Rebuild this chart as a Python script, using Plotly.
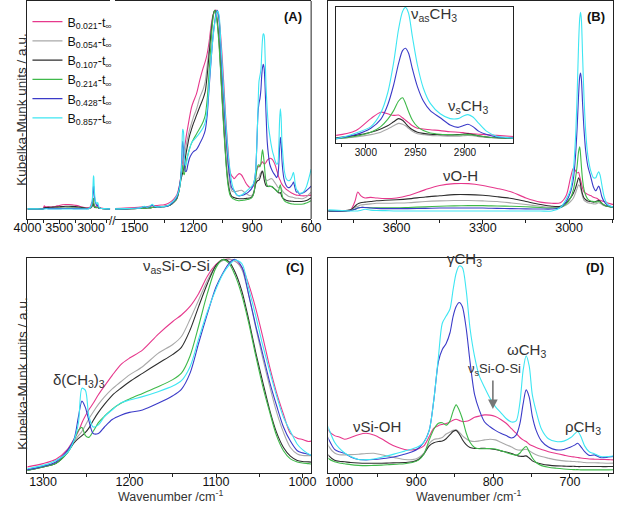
import plotly.graph_objects as go

# ---------------- data ----------------
WN_HIGH = [4000, 3900, 3840, 3790, 3760, 3745, 3735, 3725, 3710, 3690,
           3670, 3640, 3600, 3560, 3500, 3450, 3400, 3350, 3300, 3250,
           3200, 3150, 3100, 3060, 3030, 3010, 2995, 2985, 2978, 2972,
           2967, 2963, 2960, 2957, 2953, 2948, 2942, 2935, 2925, 2915,
           2907, 2902, 2897, 2892, 2886, 2878, 2868, 2855, 2840, 2800,
           2700]

WN_LOW = [1600, 1550, 1500, 1470, 1450, 1435, 1420, 1410, 1400, 1385,
          1365, 1350, 1330, 1318, 1300, 1285, 1272, 1264, 1259, 1255,
          1251, 1247, 1242, 1236, 1229, 1220, 1210, 1200, 1185, 1167,
          1150, 1140, 1130, 1120, 1110, 1100, 1092, 1085, 1078, 1070,
          1062, 1054, 1046, 1038, 1030, 1022, 1014, 1006, 1000, 993,
          985, 975, 965, 955, 945, 935, 925, 915, 905, 897,
          890, 883, 877, 871, 866, 861, 856, 852, 848, 844,
          840, 835, 830, 824, 818, 811, 804, 797, 790, 783,
          776, 770, 765, 761, 757, 753, 749, 744, 737, 728,
          718, 708, 699, 694, 690, 686, 681, 675, 668, 660,
          650, 640, 625, 610, 600]

SERIES_NAMES = ["B<sub>0.021</sub>-t<sub>∞</sub>", "B<sub>0.054</sub>-t<sub>∞</sub>",
                "B<sub>0.107</sub>-t<sub>∞</sub>", "B<sub>0.214</sub>-t<sub>∞</sub>",
                "B<sub>0.428</sub>-t<sub>∞</sub>", "B<sub>0.857</sub>-t<sub>∞</sub>"]

HIGH_B0021 = [0.000, 0.000, 0.000, 0.000, 0.001, 0.008, 0.016, 0.013, 0.011, 0.0115,
              0.011, 0.0105, 0.011, 0.013, 0.018, 0.0215, 0.023, 0.023, 0.0215, 0.019,
              0.016, 0.011, 0.0075, 0.0065, 0.007, 0.013, 0.028, 0.036, 0.034, 0.032,
              0.0325, 0.029, 0.026, 0.023, 0.019, 0.016, 0.015, 0.014, 0.013, 0.0115,
              0.011, 0.0105, 0.0095, 0.009, 0.0085, 0.008, 0.007, 0.006, 0.005, 0.003,
              0.001]
HIGH_B0054 = [0, 0, 0, 0, 0.001, 0.003, 0.004, 0.005, 0.0055, 0.006,
              0.0065, 0.0065, 0.0067, 0.007, 0.008, 0.0085, 0.0088, 0.0088, 0.0085, 0.008,
              0.0068, 0.0055, 0.004, 0.003, 0.003, 0.005, 0.008, 0.011, 0.015, 0.019,
              0.022, 0.021, 0.019, 0.016, 0.012, 0.009, 0.008, 0.007, 0.0065, 0.006,
              0.006, 0.0065, 0.007, 0.0065, 0.0055, 0.0045, 0.004, 0.0035, 0.003, 0.002,
              0.001]
HIGH_B0107 = [0, 0, 0, 0, 0.001, 0.004, 0.006, 0.007, 0.0075, 0.008,
              0.0086, 0.009, 0.0095, 0.0102, 0.0118, 0.0128, 0.0138, 0.0138, 0.0132, 0.012,
              0.0105, 0.008, 0.0055, 0.004, 0.004, 0.007, 0.011, 0.015, 0.019, 0.024,
              0.028, 0.026, 0.022, 0.018, 0.014, 0.011, 0.0095, 0.0085, 0.008, 0.0075,
              0.008, 0.0085, 0.009, 0.008, 0.0065, 0.005, 0.004, 0.0035, 0.003, 0.002,
              0.001]
HIGH_B0214 = [0, 0, 0, 0, 0.0005, 0.0015, 0.0025, 0.003, 0.003, 0.0028,
              0.0027, 0.0027, 0.0027, 0.003, 0.0035, 0.004, 0.0043, 0.0045, 0.0045, 0.0042,
              0.004, 0.0036, 0.003, 0.0025, 0.003, 0.006, 0.011, 0.018, 0.027, 0.038,
              0.050, 0.054, 0.047, 0.037, 0.026, 0.018, 0.013, 0.010, 0.0085, 0.008,
              0.0075, 0.0078, 0.008, 0.0075, 0.0065, 0.005, 0.004, 0.0035, 0.003, 0.002,
              0.001]
HIGH_B0428 = [0, 0, 0, 0, 0.0005, 0.0015, 0.0025, 0.003, 0.003, 0.0025,
              0.0022, 0.002, 0.002, 0.002, 0.0022, 0.0025, 0.0025, 0.0025, 0.0025, 0.0022,
              0.002, 0.0018, 0.0017, 0.0017, 0.003, 0.008, 0.016, 0.027, 0.045, 0.070,
              0.097, 0.113, 0.116, 0.110, 0.090, 0.068, 0.050, 0.038, 0.029, 0.020,
              0.017, 0.019, 0.021, 0.018, 0.012, 0.008, 0.005, 0.004, 0.003, 0.002,
              0.001]
HIGH_B0857 = [0.001, 0.001, 0.001, 0.0005, 0, 0, 0, 0.0005, 0.0015, 0.0008,
              0.0005, 0.0003, 0, 0, 0, 0, 0, 0, 0, 0,
              0, 0, 0, 0, 0.003, 0.010, 0.018, 0.035, 0.060, 0.098,
              0.140, 0.162, 0.167, 0.160, 0.130, 0.095, 0.066, 0.047, 0.034, 0.028,
              0.028, 0.031, 0.033, 0.030, 0.022, 0.012, 0.006, 0.004, 0.003, 0.002,
              0.001]

LOW_B0021 = [0.003, 0.005, 0.008, 0.010, 0.012, 0.013, 0.015, 0.016, 0.017, 0.018,
             0.020, 0.022, 0.028, 0.035, 0.050, 0.070, 0.115, 0.165, 0.200, 0.240,
             0.272, 0.300, 0.330, 0.370, 0.410, 0.460, 0.510, 0.540, 0.577, 0.650,
             0.710, 0.740, 0.780, 0.840, 0.920, 0.975, 0.995, 1.000, 0.990, 0.960,
             0.880, 0.770, 0.640, 0.500, 0.380, 0.280, 0.190, 0.168, 0.162, 0.153,
             0.160, 0.172, 0.178, 0.171, 0.155, 0.135, 0.120, 0.110, 0.108, 0.113,
             0.125, 0.164, 0.199, 0.210, 0.215, 0.219, 0.225, 0.233, 0.237, 0.232,
             0.227, 0.228, 0.234, 0.245, 0.250, 0.255, 0.254, 0.248, 0.236, 0.220,
             0.197, 0.178, 0.160, 0.150, 0.143, 0.132, 0.125, 0.118, 0.110, 0.100,
             0.093, 0.086, 0.080, 0.078, 0.076, 0.074, 0.072, 0.070, 0.069, 0.068,
             0.067, 0.066, 0.067, 0.068, 0.070]
LOW_B0054 = [0.000, 0.001, 0.003, 0.005, 0.006, 0.008, 0.009, 0.010, 0.011, 0.012,
             0.013, 0.014, 0.017, 0.020, 0.035, 0.052, 0.100, 0.155, 0.180, 0.200,
             0.228, 0.258, 0.290, 0.325, 0.360, 0.397, 0.430, 0.462, 0.500, 0.562,
             0.603, 0.640, 0.720, 0.810, 0.900, 0.970, 0.993, 0.998, 0.990, 0.950,
             0.830, 0.680, 0.540, 0.410, 0.290, 0.195, 0.125, 0.095, 0.088, 0.087,
             0.088, 0.090, 0.093, 0.094, 0.088, 0.080, 0.074, 0.068, 0.067, 0.075,
             0.095, 0.135, 0.152, 0.155, 0.160, 0.175, 0.183, 0.190, 0.192, 0.183,
             0.168, 0.155, 0.146, 0.143, 0.146, 0.150, 0.153, 0.150, 0.140, 0.130,
             0.120, 0.110, 0.107, 0.108, 0.111, 0.105, 0.096, 0.088, 0.080, 0.073,
             0.066, 0.062, 0.060, 0.059, 0.058, 0.057, 0.055, 0.054, 0.054, 0.053,
             0.052, 0.053, 0.060, 0.075, 0.085]
LOW_B0107 = [0.000, 0.001, 0.002, 0.003, 0.004, 0.005, 0.006, 0.008, 0.009, 0.010,
             0.011, 0.012, 0.016, 0.020, 0.035, 0.052, 0.100, 0.147, 0.167, 0.180,
             0.195, 0.215, 0.250, 0.288, 0.325, 0.367, 0.400, 0.430, 0.469, 0.515,
             0.557, 0.590, 0.670, 0.780, 0.885, 0.970, 0.998, 0.988, 0.940, 0.850,
             0.715, 0.565, 0.430, 0.300, 0.195, 0.125, 0.085, 0.065, 0.060, 0.058,
             0.055, 0.053, 0.052, 0.052, 0.052, 0.053, 0.054, 0.055, 0.058, 0.068,
             0.090, 0.125, 0.138, 0.143, 0.145, 0.155, 0.172, 0.185, 0.190, 0.175,
             0.152, 0.130, 0.118, 0.114, 0.114, 0.115, 0.113, 0.110, 0.104, 0.099,
             0.093, 0.086, 0.081, 0.081, 0.083, 0.074, 0.062, 0.055, 0.049, 0.044,
             0.041, 0.040, 0.039, 0.039, 0.038, 0.038, 0.038, 0.038, 0.038, 0.038,
             0.038, 0.039, 0.043, 0.050, 0.055]
LOW_B0214 = [0.000, 0.000, 0.002, 0.003, 0.004, 0.005, 0.006, 0.008, 0.009, 0.010,
             0.011, 0.012, 0.015, 0.020, 0.035, 0.052, 0.100, 0.160, 0.205, 0.218,
             0.180, 0.172, 0.200, 0.240, 0.270, 0.303, 0.330, 0.350, 0.376, 0.407,
             0.440, 0.470, 0.550, 0.690, 0.840, 0.960, 0.997, 0.980, 0.925, 0.830,
             0.700, 0.550, 0.410, 0.290, 0.180, 0.110, 0.072, 0.058, 0.053, 0.050,
             0.046, 0.043, 0.042, 0.043, 0.044, 0.046, 0.048, 0.050, 0.055, 0.065,
             0.090, 0.150, 0.195, 0.220, 0.222, 0.212, 0.230, 0.270, 0.297, 0.275,
             0.240, 0.180, 0.140, 0.118, 0.113, 0.113, 0.114, 0.112, 0.105, 0.097,
             0.090, 0.085, 0.095, 0.112, 0.122, 0.100, 0.075, 0.055, 0.042, 0.035,
             0.031, 0.028, 0.026, 0.025, 0.025, 0.024, 0.024, 0.024, 0.024, 0.024,
             0.024, 0.025, 0.030, 0.037, 0.042]
LOW_B0428 = [0.000, 0.001, 0.003, 0.005, 0.012, 0.008, 0.014, 0.020, 0.013, 0.010,
             0.011, 0.012, 0.016, 0.022, 0.038, 0.058, 0.110, 0.165, 0.270, 0.340,
             0.310, 0.250, 0.190, 0.190, 0.220, 0.255, 0.275, 0.288, 0.299, 0.330,
             0.365, 0.395, 0.470, 0.610, 0.745, 0.870, 0.935, 0.980, 0.998, 0.962,
             0.830, 0.690, 0.560, 0.430, 0.320, 0.220, 0.155, 0.110, 0.100, 0.094,
             0.078, 0.068, 0.066, 0.068, 0.071, 0.075, 0.081, 0.090, 0.100, 0.115,
             0.140, 0.190, 0.318, 0.480, 0.530, 0.555, 0.600, 0.668, 0.710, 0.727,
             0.710, 0.620, 0.480, 0.340, 0.276, 0.225, 0.205, 0.190, 0.178, 0.168,
             0.158, 0.170, 0.220, 0.300, 0.360, 0.330, 0.250, 0.190, 0.145, 0.120,
             0.108, 0.110, 0.120, 0.128, 0.136, 0.122, 0.101, 0.085, 0.087, 0.075,
             0.078, 0.082, 0.092, 0.105, 0.115]
LOW_B0857 = [0.001, 0.002, 0.004, 0.006, 0.014, 0.009, 0.016, 0.024, 0.015, 0.011,
             0.012, 0.013, 0.018, 0.027, 0.042, 0.065, 0.100, 0.160, 0.240, 0.400,
             0.390, 0.270, 0.220, 0.230, 0.268, 0.300, 0.332, 0.345, 0.361, 0.384,
             0.410, 0.435, 0.500, 0.630, 0.755, 0.860, 0.930, 0.970, 0.995, 0.978,
             0.860, 0.735, 0.600, 0.480, 0.365, 0.265, 0.200, 0.140, 0.115, 0.095,
             0.080, 0.068, 0.067, 0.070, 0.077, 0.085, 0.094, 0.103, 0.112, 0.122,
             0.140, 0.190, 0.318, 0.500, 0.640, 0.670, 0.700, 0.780, 0.850, 0.880,
             0.875, 0.780, 0.620, 0.500, 0.420, 0.370, 0.325, 0.290, 0.265, 0.240,
             0.225, 0.230, 0.310, 0.440, 0.503, 0.460, 0.340, 0.270, 0.195, 0.155,
             0.143, 0.145, 0.160, 0.175, 0.185, 0.165, 0.125, 0.100, 0.091, 0.080,
             0.080, 0.085, 0.110, 0.160, 0.200]

HIGH_SERIES = [HIGH_B0021, HIGH_B0054, HIGH_B0107, HIGH_B0214, HIGH_B0428, HIGH_B0857]
LOW_SERIES = [LOW_B0021, LOW_B0054, LOW_B0107, LOW_B0214, LOW_B0428, LOW_B0857]

# ---------------- style ----------------
COLORS = ["#e6388c", "#a9a9a9", "#2e2e2e", "#3fb94a", "#3b3bc8", "#3ee6f2"]
W, H = 625, 505
FONT = "Liberation Sans, Arial, sans-serif"
TXT = "#333333"


def px(x):
    return x / W


def py(y):
    return 1 - y / H


fig = go.Figure()

panels = [("x", "y", "high"), ("x2", "y", "low"), ("x3", "y2", "high"),
          ("x4", "y3", "high"), ("x5", "y4", "low"), ("x6", "y5", "low")]

for i, name in enumerate(SERIES_NAMES):
    for xa, ya, kind in panels:
        xs = WN_HIGH if kind == "high" else WN_LOW
        ys = HIGH_SERIES[i] if kind == "high" else LOW_SERIES[i]
        fig.add_trace(go.Scatter(
            x=xs, y=ys, mode="lines", name=name, legendgroup=name,
            showlegend=(xa == "x2"),
            line=dict(color=COLORS[i], width=1.1, shape="spline", smoothing=0.8),
            xaxis=xa, yaxis=ya, hoverinfo="skip"))

axcol = "#222222"


def xstyle(domain, anchor, rng, dtick, tick0, minor_dtick, size=12.5, standoff=-7):
    return dict(domain=domain, anchor=anchor, range=rng, showline=True, linecolor=axcol,
                linewidth=1, mirror=True, ticks="outside", ticklen=4, tickcolor=axcol,
                dtick=dtick, tick0=tick0, tickfont=dict(family=FONT, size=size, color="#111111"),
                ticklabelstandoff=standoff,
                showgrid=False, zeroline=False,
                minor=dict(dtick=minor_dtick, ticks="outside", ticklen=3, tickcolor=axcol,
                           showgrid=False))


def ystyle(domain, anchor, rng, mirror=True):
    return dict(domain=domain, anchor=anchor, range=rng, showline=True, linecolor=axcol,
                linewidth=1, mirror=mirror, ticks="", showticklabels=False,
                showgrid=False, zeroline=False)


top_dom = [py(219), py(1)]
bot_dom = [py(473), py(258)]

fig.update_layout(
    width=W, height=H, margin=dict(l=0, r=0, t=0, b=0),
    paper_bgcolor="white", plot_bgcolor="white",
    font=dict(family=FONT, color=TXT),
    xaxis=xstyle([px(14), px(100)], "y", [4000, 2700], 500, 4000, 250),
    xaxis2=xstyle([px(105), px(309)], "y", [1600, 600], 300, 0, 150),
    xaxis3=xstyle([px(327), px(623)], "y2", [3837, 2847], 300, 3000, 150),
    xaxis4=xstyle([px(335), px(519)], "y3", [3030, 2851.5], 50, 3000, 25, size=10, standoff=-4),
    xaxis5=xstyle([px(14), px(309)], "y4", [1318, 990], 100, 1000, 50),
    xaxis6=xstyle([px(327), px(623)], "y5", [1014, 644], 100, 1000, 50),
    yaxis=ystyle(top_dom, "x", [-0.05, 1.045], mirror=False),
    yaxis2=ystyle(top_dom, "x3", [-0.0067, 0.1765]),
    yaxis3=ystyle([py(143), py(7)], "x4", [-0.0025, 0.1675]),
    yaxis4=ystyle(bot_dom, "x5", [0.0065, 1.0046]),
    yaxis5=ystyle(bot_dom, "x6", [0.011, 0.914]),
    legend=dict(x=px(14), y=py(7), xanchor="left", yanchor="top",
                bgcolor="rgba(0,0,0,0)", font=dict(family=FONT, size=12.5, color="#111111"),
                tracegroupgap=0, itemwidth=30),
    showlegend=True,
)

# right border of panel A (axis split into two segments)
fig.add_shape(type="line", xref="paper", yref="paper", x0=px(309), x1=px(309),
              y0=top_dom[0], y1=top_dom[1], line=dict(color=axcol, width=1))


def ann(text, x, y, size=14, bold=False, color=TXT, angle=0):
    if bold:
        text = "<b>" + text + "</b>"
    fig.add_annotation(text=text, x=px(x), y=py(y), xref="paper", yref="paper",
                       showarrow=False, xanchor="center", yanchor="middle",
                       textangle=angle, font=dict(family=FONT, size=size, color=color))


ann("//", 102, 221, size=12, color="#222222")
ann("(A)", 290, 16, size=13, bold=True, color="#111111")
ann("(B)", 605, 16, size=13, bold=True, color="#111111")
ann("(C)", 292, 267, size=13, bold=True, color="#111111")
ann("(D)", 604, 267, size=13, bold=True, color="#111111")

ann("Kubelka-Munk units / a.u.", 8, 110, size=13.5, angle=-90)
ann("Kubelka-Munk units / a.u.", 8, 374, size=13.5, angle=-90)
ann("Wavenumber /cm<sup>-1</sup>", 163, 496, size=12.5)
ann("Wavenumber /cm<sup>-1</sup>", 473, 496, size=12.5)

ann("ν<sub>as</sub>CH<sub>3</sub>", 437, 14, size=15)
ann("ν<sub>s</sub>CH<sub>3</sub>", 472, 107, size=15)
ann("νO-H", 464, 175, size=15)
ann("ν<sub>as</sub>Si-O-Si", 169, 266, size=15)
ann("δ(CH<sub>3</sub>)<sub>3</sub>", 68, 380, size=15)
ann("γCH<sub>3</sub>", 468, 259, size=15)
ann("ωCH<sub>3</sub>", 533, 350, size=15)
ann("ν<sub>s</sub>Si-O-Si", 500, 369, size=13)
ann("νSi-OH", 378, 426, size=15)
ann("ρCH<sub>3</sub>", 592, 427, size=15)

fig.add_annotation(x=px(498), y=py(409), xref="paper", yref="paper", ax=0, ay=-30,
                   showarrow=True, arrowhead=2, arrowsize=1.2, arrowwidth=1.6,
                   arrowcolor="#777777", text="")

fig.write_html("out.html", config={"displayModeBar": False},
               post_script="document.body.style.margin='0';document.body.style.padding='0';")
